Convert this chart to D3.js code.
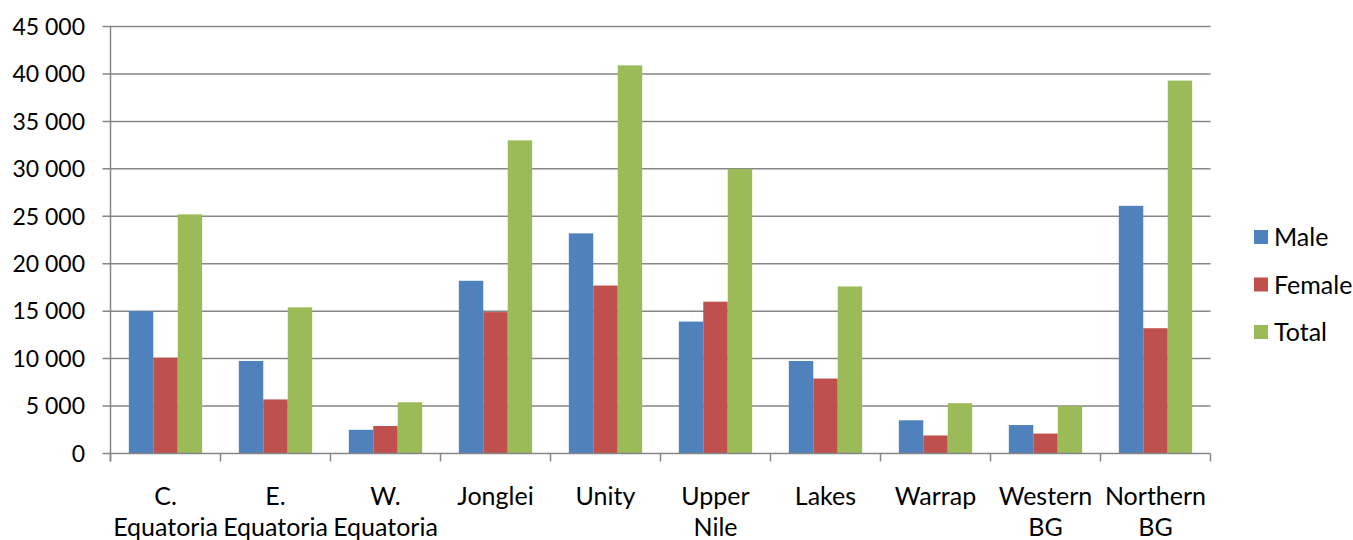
<!DOCTYPE html>
<html><head><meta charset="utf-8">
<script src="https://cdn.jsdelivr.net/npm/d3@7"></script>
<style>body{margin:0;background:#fff}svg{display:block}text{font-family:Lato,"Open Sans",sans-serif;fill:#000}</style>
</head><body>
<svg id="c" width="1353" height="540"></svg>
<script>
const categories = ["C. Equatoria","E. Equatoria","W. Equatoria","Jonglei","Unity","Upper Nile","Lakes","Warrap","Western BG","Northern BG"];
const seriesNames = ["Male","Female","Total"];
const male   = [15000, 9750, 2500, 18200, 23200, 13900, 9750, 3500, 3000, 26100];
const female = [10100, 5700, 2900, 14900, 17700, 16000, 7900, 1900, 2100, 13200];
const total  = [25200, 15400, 5400, 33000, 40900, 30000, 17600, 5300, 5000, 39300];
const yTicks = [0,5000,10000,15000,20000,25000,30000,35000,40000,45000];
const colors = ["#4F81BD","#C0504D","#9BBB59"];

const values = [male, female, total];
const svg = d3.select("#c");
const pL = 110.5, pR = 1210.5, pT = 26.5, pB = 453.5;
const x0 = d3.scaleBand().domain(categories).range([pL, pR]).padding(0);
const x1 = d3.scaleBand().domain(seriesNames).range([0, x0.bandwidth()]).paddingInner(0).paddingOuter(0.75);
const y = d3.scaleLinear().domain([0,45000]).range([pB, pT]);
const fmt = d3.formatLocale({decimal:",", thousands:"\u00a0", grouping:[3], currency:["",""]}).format(",d");
const grid = "#868686";

// gridlines
svg.append("g").selectAll("line").data(yTicks.filter(d=>d>0)).join("line")
  .attr("x1", pL-8).attr("x2", pR).attr("y1", d=>y(d)).attr("y2", d=>y(d))
  .attr("stroke", grid).attr("stroke-width", 1.5);

// y labels
svg.append("g").selectAll("text").data(yTicks).join("text")
  .attr("x", 85).attr("y", d=>y(d)).attr("dy","0.36em").attr("text-anchor","end")
  .attr("font-size", 23).text(d=>fmt(d));

// bars
const g = svg.append("g");
categories.forEach((c,i)=>{
  seriesNames.forEach((s,j)=>{
    g.append("rect").attr("x", x0(c)+x1(s)).attr("width", x1.bandwidth())
      .attr("y", y(values[j][i])).attr("height", y(0)-y(values[j][i]))
      .attr("fill", colors[j]);
  });
});

// axes lines
svg.append("line").attr("x1", pL).attr("x2", pL).attr("y1", pT).attr("y2", pB+8).attr("stroke", grid).attr("stroke-width",1.5);
svg.append("line").attr("x1", pL-8).attr("x2", pR).attr("y1", pB).attr("y2", pB).attr("stroke", grid).attr("stroke-width",1.5);
const bounds = categories.map(c=>x0(c)).concat([pR]);
svg.append("g").selectAll("line").data(bounds).join("line")
  .attr("x1", d=>d).attr("x2", d=>d).attr("y1", pB).attr("y2", pB+8)
  .attr("stroke", grid).attr("stroke-width",1.5);

// x labels
const xl = svg.append("g").selectAll("text").data(categories).join("text")
  .attr("x", d=>x0(d)+x0.bandwidth()/2).attr("y", 505).attr("text-anchor","middle").attr("font-size", 25);
xl.each(function(d){
  const parts = d.split(" ");
  const t = d3.select(this);
  parts.forEach((p,k)=>{
    t.append("tspan").attr("x", x0(d)+x0.bandwidth()/2).attr("dy", k===0?0:31).text(p);
  });
});

// legend
const lg = svg.append("g");
seriesNames.forEach((s,j)=>{
  const cy = 237 + j*47.5;
  lg.append("rect").attr("x",1254).attr("y",cy-7).attr("width",14).attr("height",14).attr("fill",colors[j]);
  lg.append("text").attr("x",1274).attr("y",cy).attr("dy","0.36em").attr("font-size",25).text(s);
});
</script>
</body></html>
